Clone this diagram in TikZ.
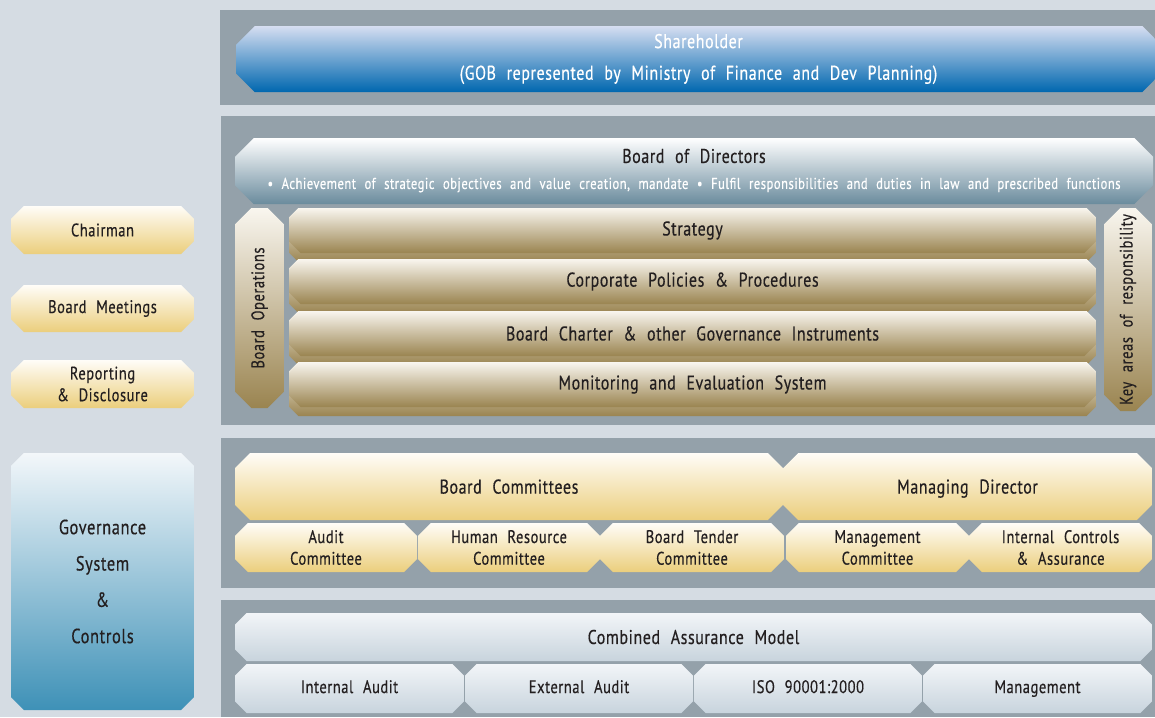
\documentclass[tikz,border=0pt]{standalone}
\usepackage{fontspec}
\setmainfont{PT Sans}[FakeStretch=0.8, WordSpace=2.2, LetterSpace=3, FakeBold=0.4]

\definecolor{pagebg}{HTML}{D5DCE3}
\definecolor{panel}{HTML}{94A1AA}
\definecolor{ink}{HTML}{231F20}
\definecolor{bluetop}{HTML}{D6DEF1}
\definecolor{bluebot}{HTML}{0067AF}
\definecolor{steeltop}{HTML}{FFFFFF}
\definecolor{steelbot}{HTML}{6A8B9D}
\definecolor{tantop}{HTML}{F9F6EF}
\definecolor{tanbot}{HTML}{9A8450}
\definecolor{goldtop}{HTML}{FFFDF8}
\definecolor{goldbot}{HTML}{EBCE7C}
\definecolor{silvertop}{HTML}{F2F5F8}
\definecolor{silverbot}{HTML}{C8D4DD}
\definecolor{seatop}{HTML}{F3F7FA}
\definecolor{seabot}{HTML}{3E91B7}

\begin{document}
\begin{tikzpicture}[x=0.03cm, y=-0.03cm,
  span/.style n args={4}{at={({(#1+#3)/2},{(#2+#4)/2})},
    minimum width={(#3-#1)*0.03cm}, minimum height={(#4-#2)*0.03cm}},
  % octagon with cut corners, shaded from top to bottom
  chip/.style n args={3}{rectangle, inner sep=0pt, outer sep=0pt, text=ink,
    align=center, font=\fontsize{17}{17}\selectfont,
    path picture={\shade[top color=#1, bottom color=#2]
      ([xshift=#3]path picture bounding box.north west)
      -- ([xshift=-#3]path picture bounding box.north east)
      -- ([yshift=-#3]path picture bounding box.north east)
      -- ([yshift=#3]path picture bounding box.south east)
      -- ([xshift=-#3]path picture bounding box.south east)
      -- ([xshift=#3]path picture bounding box.south west)
      -- ([yshift=#3]path picture bounding box.south west)
      -- ([yshift=-#3]path picture bounding box.north west) -- cycle;}},
  blue/.style={chip={bluetop}{bluebot}{16pt}},
  steel/.style={chip={steeltop}{steelbot}{16pt}},
  tan/.style={chip={tantop}{tanbot}{#1}},
  tan/.default=10pt,
  gold/.style={chip={goldtop}{goldbot}{#1}},
  gold/.default=11pt,
  silver/.style={chip={silvertop}{silverbot}{10pt}},
  sea/.style={chip={seatop}{seabot}{11pt}},
  small/.style={font=\fontsize{15.5}{18.5}\selectfont}
]
\useasboundingbox (0,0) rectangle (1155,717);
\fill[pagebg] (0,0) rectangle (1155,717);

% grey panels
\fill[panel] (220,10) rectangle (1155,105);
\fill[panel] (221,116) rectangle (1155,425);
\fill[panel] (221,438) rectangle (1155,588);
\fill[panel] (221,600) rectangle (1155,717);

% shareholder
\node[blue, span={236}{26}{1161}{92}, text=white] (share)
  {Shareholder\\[10pt](GOB represented by Ministry of Finance and Dev Planning)};

% board of directors
\node[steel, span={235}{138}{1153}{204}] (board) {};
\node[text=ink, font=\fontsize{17}{17}\selectfont] at (694,156) (boardttl) {Board of Directors};
\node[text=white, font=\fontsize{13.5}{14}\selectfont] at (694,185) (boardsub)
  {\textbullet\ Achievement of strategic objectives and value creation, mandate
   \textbullet\ Fulfil responsibilities and duties in law and prescribed functions};

\node[tan=14pt, span={235}{208}{284}{408}] (ops) {};
\node[rotate=90, text=ink, font=\fontsize{15.5}{16}\selectfont] at (ops) {Board Operations};
\node[tan=14pt, span={1104}{208}{1152}{411}] (keys) {};
\node[rotate=90, text=ink, font=\fontsize{15.5}{16}\selectfont] at (keys) {Key areas of responsibility};

% each row sits on a slightly lower copy of itself
\foreach \t/\lbl/\nm in {208/Strategy/strat, 259/{Corporate Policies \& Procedures}/policy,
  311/{Board Charter \& other Governance Instruments}/charter, 362/{Monitoring and Evaluation System}/monitor}
{
  \node[tan=8pt, span={289}{\t+4}{1096}{\t+50}] (\nm-back) {};
  \node[tan, span={289}{\t}{1096}{\t+45}] (\nm) {\lbl};
}

% committees and management
\node[gold=13pt, span={235}{453}{783}{520}, text depth=0pt] (committees) {Board Committees};
\node[gold=13pt, span={783}{453}{1152}{520}, text depth=0pt] (md) {Managing Director};
\foreach \a/\b/\lbl/\nm in {235/417/{Audit\\Committee}/audit, 418/600/{Human Resource\\Committee}/hr,
  600/784/{Board Tender\\Committee}/tender, 786/969/{Management\\Committee}/mgmt,
  969/1152/{Internal Controls\\\& Assurance}/controls}
  \node[gold, small, span={\a}{523}{\b}{572}] (\nm) {\lbl};

% assurance
\node[silver, span={235}{613}{1152}{661}] (cam) {Combined Assurance Model};
\foreach \a/\b/\lbl/\nm in {235/464/Internal Audit/ia, 465/693/External Audit/ea,
  694/922/ISO 90001:2000/iso, 923/1152/Management/man}
  \node[silver, small, span={\a}{664}{\b}{713}] (\nm) {\lbl\vphantom{Ag}};

% left column
\node[gold, small, span={11}{206}{194}{254}] (chair) {Chairman};
\node[gold, small, span={11}{285}{194}{332}] (meet) {Board Meetings};
\node[gold, small, span={11}{360}{194}{408}] (report) {Reporting\\\& Disclosure};
\node[sea, span={11}{453}{194}{710}, font=\fontsize{17.5}{31}\selectfont] (gov)
  {Governance\\System\\\&\\Controls};
\end{tikzpicture}
\end{document}
